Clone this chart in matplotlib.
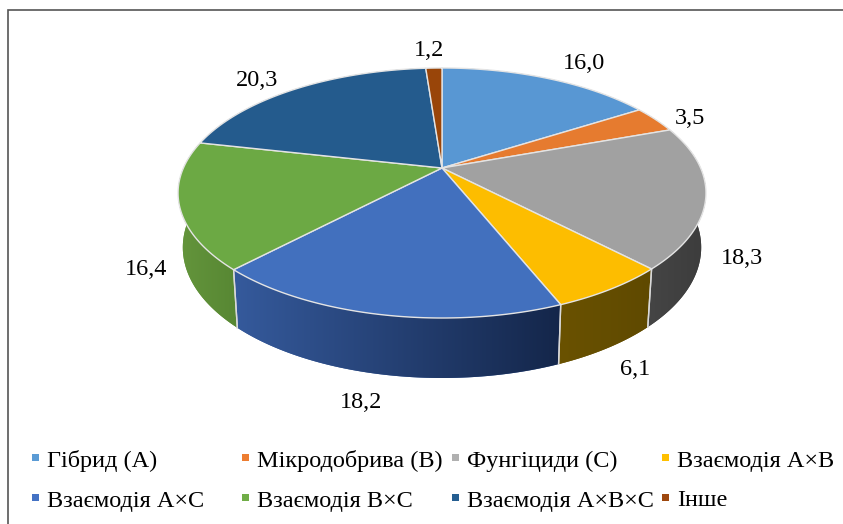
import numpy as np
import matplotlib
matplotlib.use("Agg")
import matplotlib.pyplot as plt
from matplotlib.patches import Polygon, Rectangle

# Share of variance by factor, percent
categories = ["Гібрид (А)", "Мікродобрива (В)", "Фунгіциди (С)", "Взаємодія А×В",
              "Взаємодія А×С", "Взаємодія В×С", "Взаємодія А×В×С", "Інше"]
values = [16.0, 3.5, 18.3, 6.1, 18.2, 16.4, 20.3, 1.2]

top_colors = ["#5897d3", "#e67b2f", "#a1a1a1", "#fdbd00",
              "#4270be", "#6ca944", "#245b8d", "#994509"]
legend_colors = ["#5b9bd5", "#ed7d31", "#b0b0b0", "#ffc000",
                 "#4472c4", "#70ad47", "#255e91", "#9e480e"]
# Side wall shading, left to right
side_colors = [("#3a6c9c", "#3a6c9c"), ("#8e4d1e", "#8e4d1e"), ("#454545", "#3c3c3c"),
               ("#6a5200", "#5f4900"), ("#355a9c", "#14264a"), ("#64953c", "#578733"),
               ("#163a5a", "#163a5a"), ("#5c2a06", "#5c2a06")]

# Label anchors: horizontal centre and text baseline
label_xy = [(584, 69), (690, 124), (742, 264), (635, 375),
            (361, 408), (146, 275), (257, 86), (429, 56)]

W, H = 843, 524
CX, CY = 442, 168          # pie apex on screen
A, B, K = 258.6, 120, 0.2  # disc half-axes and perspective strength
FONT_SIZE = 17.5

fig = plt.figure(figsize=(W / 100, H / 100), dpi=100, facecolor="white")
ax = fig.add_axes([0, 0, 1, 1])
ax.set_xlim(0, W)
ax.set_ylim(H, 0)
ax.axis("off")
plt.rcParams["font.family"] = "Liberation Serif"


def rim(theta):
    """Top-disc rim point for an angle measured clockwise from twelve o'clock."""
    u, v = np.sin(theta), -np.cos(theta)
    w = 1 - K * v
    return CX + A * u / w, CY + B * v / w


def lower_rim(theta):
    """Matching point on the lower edge of the wall."""
    x, y = rim(theta)
    v = -np.cos(theta)
    return CX + (x - CX) * 0.982, y + 53 + 7 * v


edges = np.radians(np.concatenate([[0], np.cumsum(values)]) * 3.6)

# Walls first, farthest slices at the back
order = np.argsort([-np.cos((a + b) / 2) for a, b in zip(edges[:-1], edges[1:])])
for i in order:
    th = np.linspace(edges[i], edges[i + 1], 120)
    tx, ty = rim(th)
    bx, by = lower_rim(th)
    pts = np.column_stack([np.r_[tx, bx[::-1]], np.r_[ty, by[::-1]]])
    wall = Polygon(pts, closed=True, facecolor=side_colors[i][0], edgecolor="none", zorder=2)
    ax.add_patch(wall)
    c0 = np.array(matplotlib.colors.to_rgb(side_colors[i][0]))
    c1 = np.array(matplotlib.colors.to_rgb(side_colors[i][1]))
    ramp = c0 + (c1 - c0) * np.linspace(0, 1, 256)[None, :, None]
    x0, x1 = pts[:, 0].min(), pts[:, 0].max()
    if abs(th.mean() - np.pi) < np.pi / 2 and x0 < x1:
        im = ax.imshow(ramp, extent=(x0, x1, pts[:, 1].max(), pts[:, 1].min()),
                       aspect="auto", zorder=2.1, interpolation="bilinear")
        im.set_clip_path(wall)
    # Pale seam down each front-facing wall edge
    for t in (edges[i], edges[i + 1]):
        if -np.cos(t) > 0:
            p, q = rim(t), lower_rim(t)
            ax.plot([p[0], q[0]], [p[1], q[1]], color="#d9d9d9", lw=1.0, zorder=3)

# Top surface wedges with light separators
for i in range(len(values)):
    th = np.linspace(edges[i], edges[i + 1], 200)
    x, y = rim(th)
    pts = np.column_stack([np.r_[CX, x], np.r_[CY, y]])
    ax.add_patch(Polygon(pts, closed=True, facecolor=top_colors[i],
                         edgecolor="#e4e4e4", lw=1.0, joinstyle="round", zorder=4))

# Data labels use a decimal comma
for val, (lx, ly) in zip(values, label_xy):
    ax.text(lx, ly, f"{val:.1f}".replace(".", ","), fontsize=FONT_SIZE, color="black",
            ha="center", va="baseline", zorder=6)

# Two-row legend
col_x = [32, 242, 452, 662]
row_y = [457, 497]
for i, (name, col) in enumerate(zip(categories, legend_colors)):
    mx = col_x[i % 4]
    my = row_y[i // 4]
    ax.add_patch(Rectangle((mx, my - 3.5), 7, 7, facecolor=col, edgecolor="none", zorder=6))
    ax.text(mx + 15, my + 9.5, name, fontsize=FONT_SIZE, color="black",
            ha="left", va="baseline", zorder=6)

# Chart border runs along the top and left only
ax.plot([8, 8, W], [H, 9.5, 9.5], color="#555555", lw=1.2, zorder=7,
        solid_joinstyle="miter", clip_on=True)

ax.set_xlim(0, W)
ax.set_ylim(H, 0)
fig.savefig("out.png", dpi=100, facecolor="white")
